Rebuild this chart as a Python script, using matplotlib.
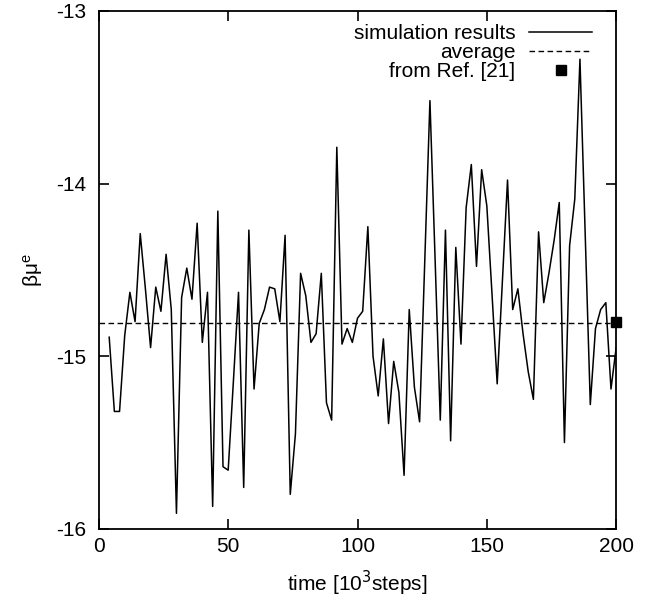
import matplotlib.pyplot as plt
import numpy as np

plt.rcParams['font.family'] = ['Liberation Sans', 'DejaVu Sans']
plt.rcParams['axes.unicode_minus'] = False

# time in 10^3 steps, one sample every 2
t = np.arange(4, 201, 2)
mu = [
    -14.89, -15.32, -15.32, -14.88, -14.63, -14.80, -14.29, -14.61, -14.95, -14.60,
    -14.74, -14.41, -14.73, -15.91, -14.66, -14.49, -14.67, -14.23, -14.92, -14.63,
    -15.87, -14.16, -15.64, -15.66, -15.15, -14.63, -15.76, -14.27, -15.19, -14.81,
    -14.73, -14.60, -14.61, -14.80, -14.30, -15.80, -15.45, -14.52, -14.65, -14.92,
    -14.87, -14.52, -15.27, -15.37, -13.79, -14.93, -14.84, -14.92, -14.78, -14.74,
    -14.25, -15.00, -15.23, -14.90, -15.39, -15.03, -15.21, -15.69, -14.73, -15.18,
    -15.38, -14.45, -13.52, -14.44, -15.37, -14.27, -15.49, -14.37, -14.93, -14.14,
    -13.89, -14.48, -13.92, -14.13, -14.64, -15.16, -14.57, -13.98, -14.73, -14.61,
    -14.87, -15.09, -15.25, -14.28, -14.69, -14.52, -14.33, -14.11, -15.50, -14.36,
    -14.09, -13.28, -14.28, -15.28, -14.84, -14.73, -14.69, -15.19, -14.95,
]
avg = -14.81
ref_t = [200]
ref_mu = [-14.80]

fig = plt.figure(figsize=(6.59, 6.01), dpi=100)
ax = fig.add_axes([0.150, 0.120, 0.785, 0.862])

ax.plot(t, mu, color="black", linewidth=1.1, label="simulation results")
ax.axhline(avg, color="black", linewidth=1.0, linestyle=(0, (4, 2.5)), label="average")
ax.plot(ref_t, ref_mu, "s", color="black", markersize=7, clip_on=False, zorder=5,
        label="from Ref. [21]")

ax.set_xlim(0, 200)
ax.set_ylim(-16, -13)
ax.set_xticks([0, 50, 100, 150, 200])
ax.set_yticks([-16, -15, -14, -13])
ax.tick_params(direction="in", top=True, right=True, length=7, width=1.2,
               labelsize=15)
ax.tick_params(axis="y", pad=9)
ax.tick_params(axis="x", pad=6)
for s in ax.spines.values():
    s.set_linewidth(1.3)

ax.set_xlabel(r"time [10$^3$steps]", fontsize=15, labelpad=9)
ax.set_ylabel(r"$\mathregular{\beta\mu^e}$", fontsize=15, labelpad=8)

ax.legend(loc="upper right", bbox_to_anchor=(0.961, 0.982), frameon=False,
          markerfirst=False, fontsize=15, handlelength=3.0, handletextpad=0.67,
          borderaxespad=0, borderpad=0.2, labelspacing=0.0)

plt.savefig("out.png", dpi=100)
